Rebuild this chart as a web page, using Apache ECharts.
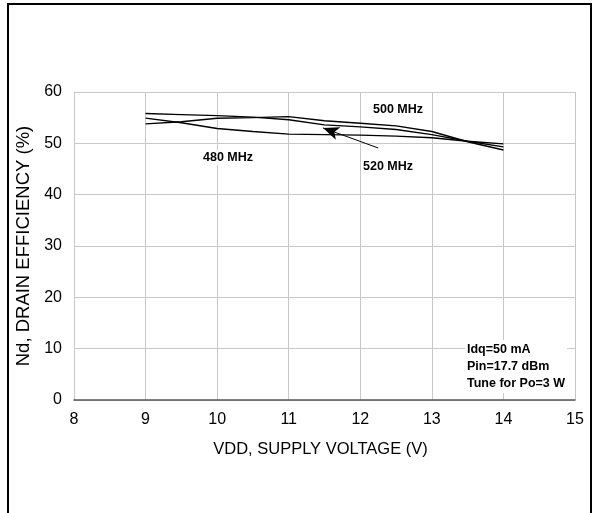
<!DOCTYPE html>
<html><head><meta charset="utf-8">
<script src="https://cdn.jsdelivr.net/npm/echarts@6/dist/echarts.min.js"></script>
<style>html,body{margin:0;padding:0;background:#fff}#c{width:598px;height:513px}</style>
</head><body><div id="c"></div>
<script>
const voltages = [9, 9.5, 10, 10.5, 11, 11.5, 12, 12.5, 13, 13.5, 14];
const eff500 = [53.8, 54.2, 54.9, 55.0, 55.2, 54.4, 53.9, 53.4, 52.3, 50.3, 48.7];
const eff520 = [55.8, 55.6, 55.4, 55.1, 54.6, 53.6, 53.2, 52.7, 51.7, 50.4, 49.3];
const eff480 = [54.9, 54.0, 52.9, 52.3, 51.8, 51.7, 51.6, 51.4, 51.1, 50.4, 49.9];
const xTicks = [8, 15, 1];
const yTicks = [0, 60, 10];
const arrow520 = [[12.25, 49.1], [11.48, 53.0]];

const font = 'Liberation Sans, Arial, sans-serif';
function pair(arr) { return voltages.map((v, i) => [v, arr[i]]); }
function line(name, arr) {
  return { name, type: 'line', data: pair(arr), symbol: 'none', silent: true,
    lineStyle: { color: '#000', width: 1.4 } };
}
const s520 = line('520 MHz', eff520);
s520.markLine = { silent: true, symbol: ['none', 'arrow'], symbolSize: [10, 16],
  lineStyle: { color: '#000', width: 1, type: 'solid' }, label: { show: false },
  data: [[{ coord: arrow520[0] }, { coord: arrow520[1] }]] };

const lbl = (text, left, top) => ({ type: 'text', left, top, z: 100,
  style: { text, font: 'bold 12.5px ' + font, fill: '#000', backgroundColor: '#fff', padding: [1, 2] } });

const chart = echarts.init(document.getElementById('c'));
chart.setOption({
  animation: false,
  grid: { left: 74, right: 23, top: 92, bottom: 113 },
  xAxis: { type: 'value', min: xTicks[0], max: xTicks[1], interval: xTicks[2],
    name: 'VDD, SUPPLY VOLTAGE (V)', nameLocation: 'middle', nameGap: 41,
    nameTextStyle: { fontFamily: font, fontSize: 16.5, color: '#000', padding: [0, 8, 0, 0] },
    axisLine: { lineStyle: { color: '#555', width: 1.5 } }, axisTick: { show: false },
    axisLabel: { fontFamily: font, fontSize: 16, color: '#000', margin: 12 },
    splitLine: { lineStyle: { color: '#c8c8c8', width: 1 } } },
  yAxis: { type: 'value', min: yTicks[0], max: yTicks[1], interval: yTicks[2],
    name: 'Nd, DRAIN EFFICIENCY (%)', nameLocation: 'middle', nameGap: 37,
    nameTextStyle: { fontFamily: font, fontSize: 18.5, color: '#000' },
    axisLine: { show: true, lineStyle: { color: '#c8c8c8' } }, axisTick: { show: false },
    axisLabel: { fontFamily: font, fontSize: 16, color: '#000', margin: 12 },
    splitLine: { lineStyle: { color: '#c8c8c8', width: 1 } } },
  series: [line('500 MHz', eff500), s520, line('480 MHz', eff480)],
  graphic: [
    { type: 'rect', shape: { x: 8, y: 4, width: 583, height: 520 }, style: { fill: 'none', stroke: '#000', lineWidth: 2 } },
    lbl('500 MHz', 371, 102),
    lbl('480 MHz', 201, 150),
    lbl('520 MHz', 361, 159),
    { type: 'text', left: 465, top: 340, z: 100, style: { text: 'Idq=50 mA\nPin=17.7 dBm\nTune for Po=3 W', font: 'bold 12.5px ' + font, lineHeight: 17, fill: '#000', backgroundColor: '#fff', padding: [1, 2] } }
  ]
});
</script></body></html>
